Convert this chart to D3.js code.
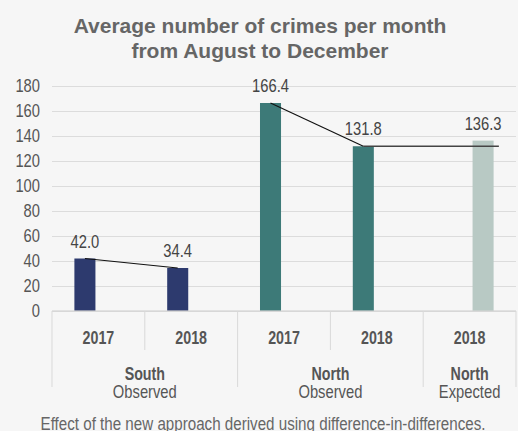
<!DOCTYPE html>
<html>
<head>
<meta charset="utf-8">
<script src="https://cdn.jsdelivr.net/npm/d3@7"></script>
<style>
  html, body { margin: 0; padding: 0; background: #f6f6f6; }
  svg text { font-family: "Liberation Sans", Arial, sans-serif; }
</style>
</head>
<body>
<div id="chart"></div>
<script>
// chart values
var years = ["2017", "2018", "2017", "2018", "2018"];
var kinds = ["Observed", "Observed", "Observed", "Observed", "Expected"];
var values = [42.0, 34.4, 166.4, 131.8, 136.3];
var barColors = ["#2d3a6e", "#2d3a6e", "#3d7a78", "#3d7a78", "#b8c9c4"];
var groupNames = ["South", "North", "North"];
var groupSubs = ["Observed", "Observed", "Expected"];
var groupSpans = [[0, 1], [2, 3], [4, 4]];
var yTicks = [0, 20, 40, 60, 80, 100, 120, 140, 160, 180];

var width = 518, height = 431;
var plotLeft = 52, plotRight = 516, plotTop = 86, plotBottom = 311;

var svg = d3.select("#chart").append("svg")
    .attr("width", width)
    .attr("height", height);

svg.append("rect")
    .attr("width", width).attr("height", height)
    .attr("fill", "#f6f6f6");

// text squeezed horizontally to look like Arial Narrow
function label(parent, x, y, str, size, weight, fill, squeeze, anchor) {
    return parent.append("text")
        .attr("transform", "translate(" + x + "," + y + ") scale(" + squeeze + ",1)")
        .attr("text-anchor", anchor || "middle")
        .attr("font-size", size)
        .attr("font-weight", weight || "normal")
        .attr("fill", fill)
        .text(str);
}

var slots = d3.range(values.length);

var x = d3.scaleBand().domain(slots).range([plotLeft, plotRight]).padding(0);
var xSub = d3.scaleBand().domain(["Observed", "Expected"])
    .range([0, x.bandwidth()])
    .paddingInner(0.22).paddingOuter(0.83);
var y = d3.scaleLinear().domain([0, 180]).range([plotBottom, plotTop]);

function barCenter(i) { return x(i) + xSub(kinds[i]) + xSub.bandwidth() / 2; }

// title
label(svg, 260, 33, "Average number of crimes per month", 21, "bold", "#666", 1);
label(svg, 260, 58, "from August to December", 21, "bold", "#666", 1);

// gridlines + y axis
var yAxis = svg.append("g")
    .attr("transform", "translate(" + plotLeft + ",0)")
    .call(d3.axisLeft(y).tickValues(yTicks).tickSize(-(plotRight - plotLeft)).tickFormat(""));
yAxis.select(".domain").remove();
yAxis.selectAll(".tick line").attr("stroke", "#dcdcdc");

var yLabels = svg.append("g");
yTicks.forEach(function(t) {
    label(yLabels, 40, y(t) + 6, String(t), 18, "normal", "#555", 0.82, "end");
});

// bars
svg.append("g").selectAll("rect")
    .data(slots)
    .join("rect")
    .attr("x", function(i) { return x(i) + xSub(kinds[i]); })
    .attr("y", function(i) { return y(values[i]); })
    .attr("width", xSub.bandwidth())
    .attr("height", function(i) { return y(0) - y(values[i]); })
    .attr("fill", function(i) { return barColors[i]; });

// x axis baseline and dividers
svg.append("line")
    .attr("x1", plotLeft).attr("x2", plotRight)
    .attr("y1", plotBottom).attr("y2", plotBottom)
    .attr("stroke", "#d4d4d4").attr("stroke-width", 1.5).attr("opacity", 0.8);

var groupEdges = [0, 2, 4, 5];
svg.append("g").selectAll("line")
    .data(d3.range(values.length + 1))
    .join("line")
    .attr("x1", function(i) { return i < values.length ? x(i) : plotRight; })
    .attr("x2", function(i) { return i < values.length ? x(i) : plotRight; })
    .attr("y1", plotBottom)
    .attr("y2", function(i) { return groupEdges.indexOf(i) >= 0 ? 387 : 350; })
    .attr("stroke", "#d9d9d9");

// trend lines
var line = d3.line().x(function(d) { return d[0]; }).y(function(d) { return y(d[1]); });
svg.append("path")
    .attr("d", line([[barCenter(0), values[0]], [barCenter(1), values[1]]]))
    .attr("stroke", "#111").attr("stroke-width", 1.2).attr("fill", "none");
svg.append("path")
    .attr("d", line([[barCenter(2), values[2]], [barCenter(3), values[3]]]))
    .attr("stroke", "#111").attr("stroke-width", 1.2).attr("fill", "none");
svg.append("path")
    .attr("d", line([[barCenter(3), values[3]], [barCenter(4) + xSub.bandwidth() * 0.75, values[3]]]))
    .attr("stroke", "#444").attr("stroke-width", 1.5).attr("fill", "none");

// value labels
var valueLabels = svg.append("g");
slots.forEach(function(i) {
    label(valueLabels, barCenter(i), y(values[i]) - 11, values[i].toFixed(1), 18, "normal", "#444", 0.82);
});

// category labels
var catLabels = svg.append("g");
slots.forEach(function(i) {
    label(catLabels, x(i) + x.bandwidth() / 2, 344, years[i], 19, "bold", "#555", 0.75);
});

// group labels
var groupLabels = svg.append("g");
groupNames.forEach(function(name, g) {
    var cx = (x(groupSpans[g][0]) + x(groupSpans[g][1]) + x.bandwidth()) / 2;
    label(groupLabels, cx, 380, name, 19, "bold", "#555", 0.75);
    label(groupLabels, cx, 398, groupSubs[g], 18, "normal", "#555", 0.82);
});

// footnote
label(svg, 263, 430, "Effect of the new approach derived using difference-in-differences.", 18.5, "normal", "#666", 0.82);
</script>
</body>
</html>
